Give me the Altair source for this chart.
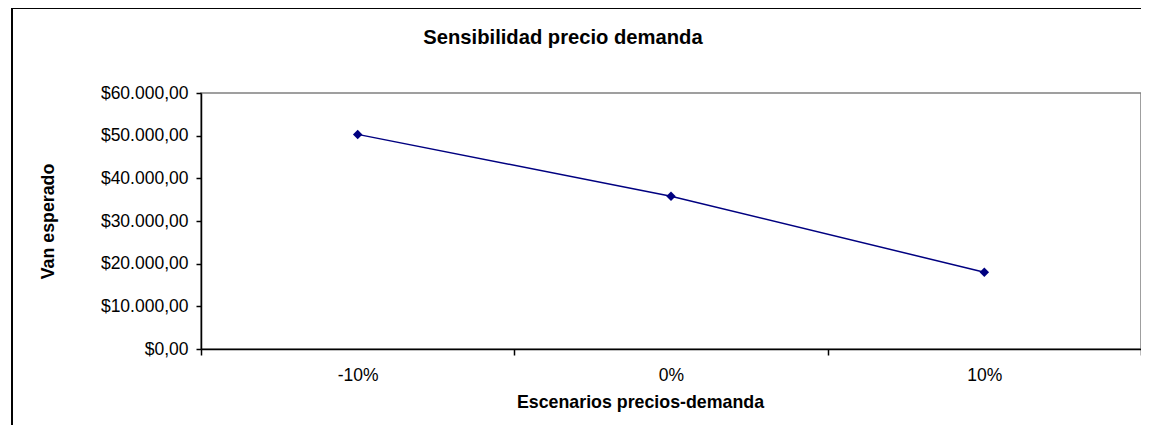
import altair as alt
import pandas as pd

escenarios = ["-10%", "0%", "10%"]
van_esperado = [50300, 35800, 18000]

df = pd.DataFrame({"escenario": escenarios, "van": van_esperado})

FONT = "Liberation Sans"
NAVY = "#000080"

x_enc = alt.X(
    "escenario:N",
    sort=escenarios,
    scale=alt.Scale(paddingInner=0, paddingOuter=0),
    axis=alt.Axis(
        title="Escenarios precios-demanda",
        labelAngle=0,
        tickBand="extent",
        tickSize=6,
        tickColor="black",
        tickWidth=1.5,
        domainColor="black",
        domainWidth=1.5,
        labelFontSize=17.5,
        labelPadding=11,
        titleFontSize=17.8,
        titleFontWeight="bold",
        titleX=439,
        titleY=53,
        titleBaseline="middle",
        titleAlign="center",
        zindex=2,
    ),
)

y_enc = alt.Y(
    "van:Q",
    scale=alt.Scale(domain=[0, 60000], nice=False),
    axis=alt.Axis(
        title="Van esperado",
        values=[0, 10000, 20000, 30000, 40000, 50000, 60000],
        format="$,.2f",
        grid=False,
        tickSize=5,
        tickColor="black",
        tickWidth=1.5,
        domainColor="black",
        domainWidth=1.5,
        labelFontSize=17.5,
        labelPadding=8,
        titleFontSize=17.8,
        titleFontWeight="bold",
        titleX=-153,
        titleY=128,
        titleBaseline="middle",
        titleAlign="center",
        zindex=2,
    ),
)

frame = alt.Chart(df).mark_rect(
    fill="transparent", stroke="black", strokeWidth=1.5, clip=False
).encode(
    x=alt.value(-189),
    x2=alt.value(1000),
    y=alt.value(-85),
    y2=alt.value(400),
)

line = alt.Chart(df).mark_line(color=NAVY, strokeWidth=1.5).encode(x=x_enc, y=y_enc)
points = alt.Chart(df).mark_point(
    shape="diamond", filled=True, color=NAVY, size=90, opacity=1
).encode(x=x_enc, y=y_enc)

chart = (
    alt.layer(frame, line, points)
    .properties(
        width=940,
        height=256,
        autosize=alt.AutoSizeParams(type="none"),
        padding={"left": 193, "top": 85, "right": 0, "bottom": 76},
        title=alt.TitleParams(
            "Sensibilidad precio demanda",
            fontSize=20.2,
            fontWeight="bold",
            font=FONT,
            anchor="middle",
            frame="group",
            baseline="alphabetic",
            dx=-108,
            offset=0,
            dy=57,
            color="black",
        ),
    )
    .configure(
        font=FONT,
        locale={
            "number": {
                "decimal": ",",
                "thousands": ".",
                "grouping": [3],
                "currency": ["$", ""],
            }
        },
    )
    .configure_view(stroke="#808080", strokeWidth=1.5)
    .configure_axis(labelColor="black", titleColor="black", labelFont=FONT, titleFont=FONT)
)

chart.save("out.html", embed_options={"renderer": "svg", "actions": False})
